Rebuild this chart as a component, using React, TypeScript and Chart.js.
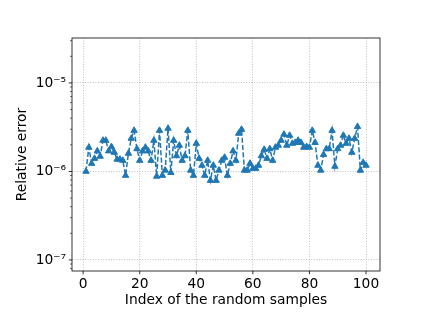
import React, { useEffect, useRef } from 'react';
import { Chart, registerables } from 'chart.js';

Chart.register(...registerables);

// Relative error of each random sample (index 1..100)
const relativeErrors: number[] = [
  1.0e-6, 1.87e-6, 1.23e-6, 1.4e-6, 1.7e-6, 1.48e-6, 2.24e-6, 2.24e-6, 1.7e-6, 1.9e-6,
  1.64e-6, 1.37e-6, 1.37e-6, 1.33e-6, 0.9e-6, 1.6e-6, 2.36e-6, 2.9e-6, 1.8e-6, 1.33e-6,
  1.7e-6, 1.87e-6, 1.7e-6, 1.33e-6, 2.24e-6, 0.88e-6, 2.9e-6, 0.9e-6, 1.03e-6, 3.06e-6,
  0.97e-6, 2.24e-6, 1.5e-6, 1.97e-6, 1.33e-6, 1.5e-6, 2.9e-6, 1.03e-6, 0.9e-6, 2.07e-6,
  1.4e-6, 1.17e-6, 0.9e-6, 1.33e-6, 0.79e-6, 1.17e-6, 0.79e-6, 1.03e-6, 1.33e-6, 1.44e-6,
  0.9e-6, 1.23e-6, 1.7e-6, 1.33e-6, 2.69e-6, 2.98e-6, 1.03e-6, 1.03e-6, 1.23e-6, 1.08e-6,
  1.08e-6, 1.17e-6, 1.5e-6, 1.77e-6, 1.4e-6, 1.8e-6, 1.33e-6, 1.87e-6, 1.97e-6, 2.24e-6,
  2.62e-6, 1.97e-6, 2.55e-6, 2.07e-6, 2.12e-6, 2.24e-6, 2.12e-6, 1.87e-6, 1.9e-6, 1.87e-6,
  2.9e-6, 2.12e-6, 1.17e-6, 1.03e-6, 1.55e-6, 1.8e-6, 1.8e-6, 2.9e-6, 1.14e-6, 1.8e-6,
  1.97e-6, 2.55e-6, 2.07e-6, 2.36e-6, 1.64e-6, 2.36e-6, 3.2e-6, 1.03e-6, 1.26e-6, 1.17e-6,
];

const xTickValues: number[] = [0, 20, 40, 60, 80, 100];
const yMajorTicks: number[] = [1e-7, 1e-6, 1e-5];
const yTickLabels: string[] = ['10\u207B\u2077', '10\u207B\u2076', '10\u207B\u2075'];
const yMinorTicks: number[] = [
  8e-8, 9e-8,
  2e-7, 3e-7, 4e-7, 5e-7, 6e-7, 7e-7, 8e-7, 9e-7,
  2e-6, 3e-6, 4e-6, 5e-6, 6e-6, 7e-6, 8e-6, 9e-6,
  2e-5, 3e-5,
];

const X_MIN = -3.95;
const X_MAX = 104.95;
const Y_MIN = 7.5e-8;
const Y_MAX = 3.22e-5;

const FONT = { family: "'DejaVu Sans', sans-serif", size: 13.8 };

const framePlugin = {
  id: 'mplFrame',
  afterDatasetsDraw(chart: any) {
    const { ctx, chartArea, scales } = chart;
    const { left, right, top, bottom } = chartArea;
    const x = scales.x;
    const y = scales.y;
    ctx.save();
    ctx.strokeStyle = '#000';
    ctx.lineWidth = 0.8;
    ctx.setLineDash([]);
    ctx.strokeRect(left, top, right - left, bottom - top);
    const line = (x1: number, y1: number, x2: number, y2: number, w: number) => {
      ctx.lineWidth = w;
      ctx.beginPath();
      ctx.moveTo(x1, y1);
      ctx.lineTo(x2, y2);
      ctx.stroke();
    };
    xTickValues.forEach((v) => {
      const px = x.getPixelForValue(v);
      line(px, bottom, px, bottom + 3.3, 0.8);
    });
    yMajorTicks.forEach((v) => {
      const py = y.getPixelForValue(v);
      line(left - 3.3, py, left, py, 0.8);
    });
    yMinorTicks.forEach((v) => {
      const py = y.getPixelForValue(v);
      if (py >= top - 0.5 && py <= bottom + 0.5) line(left - 1.9, py, left, py, 0.6);
    });
    ctx.restore();
  },
};

export default function App() {
  const canvasRef = useRef<HTMLCanvasElement | null>(null);

  useEffect(() => {
    if (!canvasRef.current) return;
    const points = relativeErrors.map((v, i) => ({ x: i + 1, y: v }));
    const chart = new Chart(canvasRef.current, {
      type: 'line',
      data: {
        datasets: [
          {
            data: points,
            borderColor: '#1f77b4',
            backgroundColor: '#1f77b4',
            borderWidth: 1.5,
            borderDash: [5.1, 2.2],
            pointStyle: 'triangle',
            pointRadius: 3.7,
            pointBackgroundColor: '#1f77b4',
            pointBorderColor: '#1f77b4',
            pointBorderWidth: 1,
            tension: 0,
            fill: false,
          },
        ],
      },
      options: {
        animation: false,
        responsive: false,
        devicePixelRatio: 1,
        layout: { padding: { top: 38, right: 45, left: 0, bottom: 0 } },
        plugins: {
          legend: { display: false },
          tooltip: { enabled: false },
        },
        scales: {
          x: {
            type: 'linear',
            min: X_MIN,
            max: X_MAX,
            afterBuildTicks: (scale: any) => {
              scale.ticks = xTickValues.map((v) => ({ value: v }));
            },
            afterFit: (scale: any) => {
              scale.height = 48;
            },
            ticks: {
              color: '#000',
              font: FONT,
              padding: 5,
              autoSkip: false,
              maxRotation: 0,
              callback: (v: any) => String(v),
            },
            grid: {
              color: '#b0b0b0',
              lineWidth: 0.8,
              drawTicks: false,
            },
            border: { display: false, dash: [1, 1.6] },
            title: {
              display: true,
              text: 'Index of the random samples',
              color: '#000',
              font: FONT,
              padding: { top: 0, bottom: 10.5 },
            },
          },
          y: {
            type: 'logarithmic',
            min: Y_MIN,
            max: Y_MAX,
            afterBuildTicks: (scale: any) => {
              scale.ticks = yMajorTicks.map((v) => ({ value: v, major: true }));
            },
            afterFit: (scale: any) => {
              scale.width = 72;
            },
            ticks: {
              color: '#000',
              font: FONT,
              padding: 6,
              autoSkip: false,
              callback: (v: any) => {
                const idx = yMajorTicks.findIndex((m) => Math.abs(m - v) / m < 1e-6);
                return idx >= 0 ? yTickLabels[idx] : '';
              },
            },
            grid: {
              color: '#b0b0b0',
              lineWidth: 0.8,
              drawTicks: false,
            },
            border: { display: false, dash: [1, 1.6] },
            title: {
              display: true,
              text: 'Relative error',
              color: '#000',
              font: FONT,
              padding: { top: 14, bottom: 0 },
            },
          },
        },
      },
      plugins: [framePlugin],
    });
    return () => chart.destroy();
  }, []);

  return (
    <div style={{ position: 'absolute', left: 0, top: 0, width: 425, height: 319, background: '#fff' }}>
      <canvas ref={canvasRef} width={425} height={319} style={{ width: 425, height: 319 }} />
    </div>
  );
}
